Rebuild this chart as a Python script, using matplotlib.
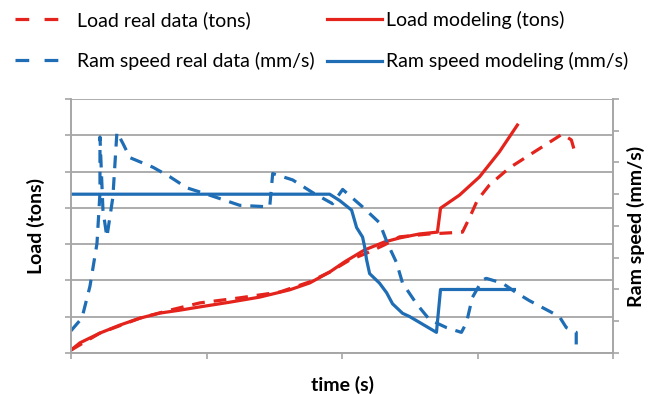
import matplotlib.pyplot as plt
from matplotlib.lines import Line2D

RED = '#e3231c'
BLUE = '#1f6db4'
GRID = '#a6a6a6'

# Load modeling (tons) - left axis
load_model_t = [0.0, 0.66, 2.14, 3.61, 5.08, 6.56, 8.03, 9.50, 11.71, 13.92, 16.13, 17.61,
                19.08, 20.18, 21.66, 23.13, 24.24, 25.71, 27.03, 27.26, 28.66, 30.13, 31.60, 32.93]
load_model = [0.8, 2.8, 5.5, 7.7, 9.6, 11.0, 11.8, 12.7, 14.0, 15.4, 17.4, 19.3,
              22.3, 25.1, 28.4, 30.6, 31.7, 32.8, 33.3, 39.9, 43.5, 48.5, 55.4, 62.8]

# Load real data (tons) - left axis
load_real_t = [0.0, 2.14, 5.08, 7.29, 9.50, 12.45, 15.40, 17.61, 19.08, 20.55, 21.80, 23.13,
               24.24, 26.45, 28.88, 29.39, 29.98, 30.87, 32.34, 34.18, 36.24, 36.91, 37.27]
load_real = [0.8, 5.5, 9.6, 11.8, 13.8, 15.2, 16.8, 19.6, 22.3, 25.6, 27.5, 29.8,
             32.0, 32.8, 33.3, 37.2, 42.1, 46.3, 51.0, 55.4, 60.3, 58.7, 54.0]

# Ram speed modeling (mm/s) - right axis
ram_model_t = [0.0, 19.08, 19.82, 20.70, 21.07, 21.51, 21.66, 21.80, 22.03, 22.76, 23.28,
               23.72, 24.46, 24.97, 26.96, 27.26, 32.71]
ram_model = [10.0, 10.0, 9.6, 9.0, 7.9, 7.3, 6.7, 5.9, 5.0, 4.4, 3.8,
             3.1, 2.5, 2.3, 1.3, 4.0, 4.0]

# Ram speed real data (mm/s) - right axis
ram_real_t = [0.0, 0.81, 1.40, 1.92, 2.14, 2.14, 2.36, 2.65, 3.09, 3.39, 3.83, 4.35, 6.04,
              7.29, 8.55, 10.02, 12.45, 14.66, 14.88, 16.35, 17.83, 19.30, 20.04, 21.51,
              22.76, 23.35, 24.01, 24.46, 25.49, 26.45, 27.70, 28.80, 29.17, 29.61, 30.35,
              30.64, 31.82, 32.85, 33.81, 36.02, 36.54, 37.27, 37.27]
ram_real = [1.4, 2.2, 4.2, 6.9, 10.1, 13.6, 9.0, 7.3, 9.8, 13.9, 13.2, 12.3, 11.7,
            11.1, 10.4, 10.0, 9.3, 9.2, 11.3, 10.9, 10.1, 9.4, 10.3, 9.2,
            8.2, 6.9, 5.7, 4.4, 3.1, 2.1, 1.6, 1.3, 1.9, 3.5, 4.6,
            4.7, 4.4, 3.8, 3.3, 2.3, 1.6, 1.3, 0.0]

plt.rcParams['font.family'] = ['Lato', 'DejaVu Sans']

fig = plt.figure(figsize=(6.51, 3.94), dpi=100)
ax = fig.add_axes([0.109, 0.104, 0.833, 0.645])
ax2 = ax.twinx()

lw = 2.3
dash = (0, (4, 2.8))
ax.plot(load_real_t, load_real, color=RED, lw=lw, ls=dash)
ax.plot(load_model_t, load_model, color=RED, lw=lw)
ax2.plot(ram_real_t, ram_real, color=BLUE, lw=lw, ls=dash)
ax2.plot(ram_model_t, ram_model, color=BLUE, lw=lw)

ax.set_xlim(0, 40)
ax.set_ylim(0, 70)
ax2.set_ylim(0, 16)
ax.set_xticks([0, 10, 20, 30, 40])
ax.set_yticks(range(0, 71, 10))
ax2.set_yticks(range(0, 17, 2))
ax.set_xticklabels([])
ax.set_yticklabels([])
ax2.set_yticklabels([])
ax.yaxis.grid(True, color=GRID, lw=1.3)
ax.set_axisbelow(True)

for a in (ax, ax2):
    for s in a.spines.values():
        s.set_color(GRID)
        s.set_linewidth(1.2)
    a.spines['top'].set_visible(False)
    a.tick_params(colors=GRID, length=4, width=1.2)

lab = dict(fontsize=14, fontweight='bold')
ax.set_xlabel('time (s)', labelpad=9, **lab)
ax.set_ylabel('Load (tons)', labelpad=11, **lab)
ax2.set_ylabel('Ram speed (mm/s)', labelpad=2, **lab)

# legend: two columns with different handle styles
real_h = [Line2D([], [], color=RED, lw=lw, ls=(0, (4.3, 4.8))),
          Line2D([], [], color=BLUE, lw=lw, ls=(0, (4.3, 4.8)))]
model_h = [Line2D([], [], color=RED, lw=lw),
           Line2D([], [], color=BLUE, lw=lw)]
leg_kw = dict(loc='upper left', frameon=False, fontsize=14, labelspacing=1.2,
              borderpad=0, borderaxespad=0)
fig.legend(real_h, ['Load real data (tons)', 'Ram speed real data (mm/s)'],
           bbox_to_anchor=(15 / 651, 1 - 11 / 394), handlelength=2.2,
           handletextpad=1.0, **leg_kw)
fig.legend(model_h, ['Load modeling (tons)', 'Ram speed modeling (mm/s)'],
           bbox_to_anchor=(327 / 651, 1 - 11 / 394), handlelength=2.85,
           handletextpad=0.2, **leg_kw)

fig.savefig('out.png', dpi=100)
